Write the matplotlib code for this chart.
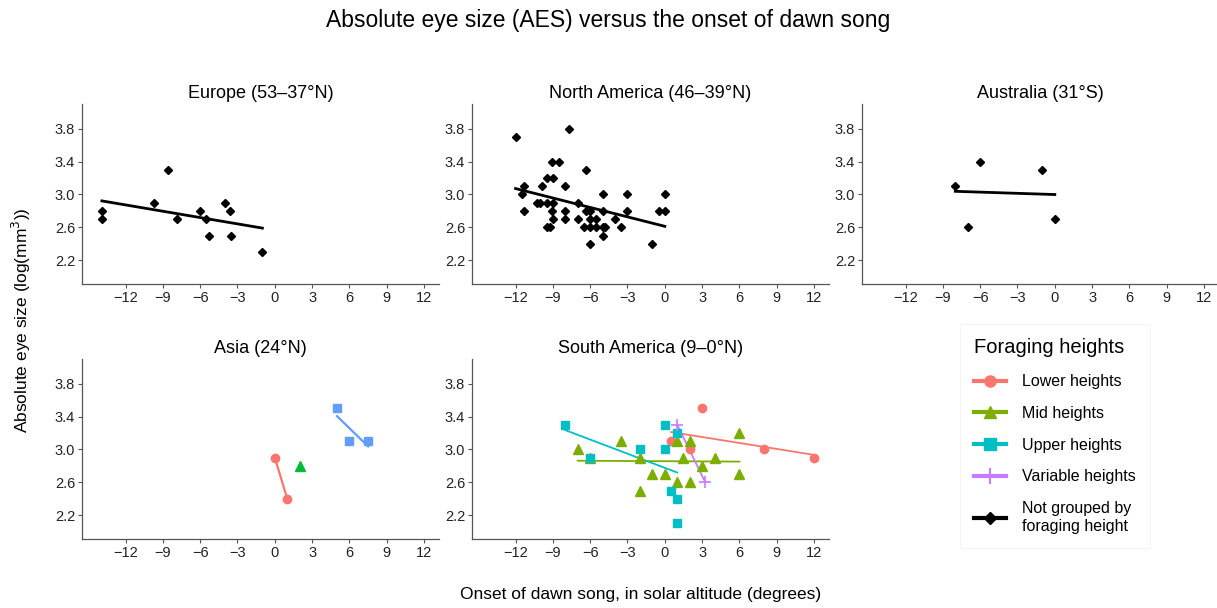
import numpy as np
import matplotlib
matplotlib.use("Agg")
import matplotlib.pyplot as plt
from matplotlib.lines import Line2D

plt.rcParams['font.family'] = ['Liberation Sans', 'DejaVu Sans']

# Datos
eu_x = [-13.9, -13.9, -9.7, -8.6, -7.9, -6.0, -5.5, -5.3, -4.0, -3.6, -3.5, -1.0]
eu_y = [2.8, 2.7, 2.9, 3.3, 2.7, 2.8, 2.7, 2.5, 2.9, 2.8, 2.5, 2.3]

na_x = [-12.0, -7.7, -9.1, -8.5, -6.3, -9.5, -9.0, -11.3, -9.9, -8.0,
        -11.5, -5.0, -3.0, 0.0, -10.3, -10.0, -9.5, -9.0, -7.0,
        -11.3, -9.1, -8.0, -6.3, -6.0, -5.0, -3.0, -0.5, 0.0,
        -9.0, -8.0, -7.0, -6.0, -5.5, -4.0,
        -9.5, -9.2, -6.5, -6.0, -5.5, -5.0, -4.8, -3.5,
        -5.0, -6.0, -1.0]
na_y = [3.7, 3.8, 3.4, 3.4, 3.3, 3.2, 3.2, 3.1, 3.1, 3.1,
        3.0, 3.0, 3.0, 3.0, 2.9, 2.9, 2.9, 2.9, 2.9,
        2.8, 2.8, 2.8, 2.8, 2.8, 2.8, 2.8, 2.8, 2.8,
        2.7, 2.7, 2.7, 2.7, 2.7, 2.7,
        2.6, 2.6, 2.6, 2.6, 2.6, 2.6, 2.6, 2.6,
        2.5, 2.4, 2.4]

au_x = [-8.0, -7.0, -6.0, -1.0, 0.0]
au_y = [3.1, 2.6, 3.4, 3.3, 2.7]

asia_low_x = [0.0, 1.0]
asia_low_y = [2.9, 2.4]
asia_mid_x = [2.0]
asia_mid_y = [2.8]
asia_up_x = [5.0, 6.0, 7.5]
asia_up_y = [3.5, 3.1, 3.1]

sa_low_x = [0.5, 2.0, 3.0, 8.0, 12.0]
sa_low_y = [3.1, 3.0, 3.5, 3.0, 2.9]
sa_mid_x = [-7.0, -6.0, -3.5, -2.0, -2.0, -1.0, 0.0, 1.0, 2.0, 1.0, 2.0, 1.5, 3.0, 4.0, 6.0, 6.0]
sa_mid_y = [3.0, 2.9, 3.1, 2.9, 2.5, 2.7, 2.7, 3.1, 3.1, 2.6, 2.6, 2.9, 2.8, 2.9, 3.2, 2.7]
sa_up_x = [-8.0, -6.0, -2.0, 0.0, 0.0, 1.0, 0.5, 1.0, 1.0]
sa_up_y = [3.3, 2.9, 3.0, 3.3, 3.0, 3.2, 2.5, 2.4, 2.1]
sa_var_x = [1.0, 3.25]
sa_var_y = [3.3, 2.6]

x_ticks = [-12, -9, -6, -3, 0, 3, 6, 9, 12]
y_ticks = [2.2, 2.6, 3.0, 3.4, 3.8]

legend_labels = ["Lower heights", "Mid heights", "Upper heights",
                 "Variable heights", "Not grouped by\nforaging height"]

# Colores tipo ggplot
c_low = "#F8766D"
c_mid = "#7CAE00"
c_up = "#00BFC4"
c_var = "#C77CFF"
c_mid3 = "#00BA38"
c_up3 = "#619CFF"


def recta(ax, x, y, color, lw):
    x = np.array(x)
    m, b = np.polyfit(x, y, 1)
    xs = np.array([x.min(), x.max()])
    ax.plot(xs, m * xs + b, color=color, lw=lw, zorder=2)


def formato(ax, titulo):
    ax.set_xlim(-15.5, 13.2)
    ax.set_ylim(1.91, 4.1)
    ax.set_xticks(x_ticks)
    ax.set_xticklabels([str(t).replace("-", "\u2212") for t in x_ticks])
    ax.set_yticks(y_ticks)
    ax.set_yticklabels([f"{t:.1f}" for t in y_ticks])
    for s in ["top", "right"]:
        ax.spines[s].set_visible(False)
    for s in ["left", "bottom"]:
        ax.spines[s].set_color("#555555")
        ax.spines[s].set_linewidth(0.9)
    ax.tick_params(length=3, width=0.8, color="#555555", labelsize=10.5,
                   labelcolor="#222222", pad=2)
    ax.set_title(titulo, fontsize=13, pad=4)


fig = plt.figure(figsize=(12.17, 6.08), dpi=100)

W, H = 357 / 1217, 180 / 608
lefts = [82 / 1217, 472 / 1217, 862 / 1217]
b_top = (608 - 284) / 608
b_bot = (608 - 539) / 608

ax_eu = fig.add_axes([lefts[0], b_top, W, H])
ax_na = fig.add_axes([lefts[1], b_top, W, H])
ax_au = fig.add_axes([lefts[2], b_top, W, H])
ax_as = fig.add_axes([lefts[0], b_bot, W, H])
ax_sa = fig.add_axes([lefts[1], b_bot, W, H])

dia = dict(marker="D", ms=4.2, color="black", ls="none", zorder=3)

# Europa
ax_eu.plot(eu_x, eu_y, **dia)
recta(ax_eu, eu_x, eu_y, "black", 2)
formato(ax_eu, "Europe (53\u201337\u00b0N)")

# Norteamerica
ax_na.plot(na_x, na_y, **dia)
recta(ax_na, na_x, na_y, "black", 2)
formato(ax_na, "North America (46\u201339\u00b0N)")

# Australia
ax_au.plot(au_x, au_y, **dia)
recta(ax_au, au_x, au_y, "black", 2)
formato(ax_au, "Australia (31\u00b0S)")

# Asia
ax_as.plot(asia_low_x, asia_low_y, "o", color=c_low, ms=6, zorder=3)
recta(ax_as, asia_low_x, asia_low_y, c_low, 1.6)
ax_as.plot(asia_mid_x, asia_mid_y, "^", color=c_mid3, ms=7, zorder=3)
ax_as.plot(asia_up_x, asia_up_y, "s", color=c_up3, ms=6, zorder=3)
recta(ax_as, asia_up_x, asia_up_y, c_up3, 1.6)
formato(ax_as, "Asia (24\u00b0N)")

# Sudamerica
ax_sa.plot(sa_low_x, sa_low_y, "o", color=c_low, ms=6, zorder=3)
recta(ax_sa, sa_low_x, sa_low_y, c_low, 1.3)
ax_sa.plot(sa_mid_x, sa_mid_y, "^", color=c_mid, ms=7, zorder=3)
recta(ax_sa, sa_mid_x, sa_mid_y, c_mid, 1.3)
ax_sa.plot(sa_up_x, sa_up_y, "s", color=c_up, ms=6, zorder=3)
recta(ax_sa, sa_up_x, sa_up_y, c_up, 1.3)
ax_sa.plot(sa_var_x, sa_var_y, "+", color=c_var, ms=9, mew=1.2, zorder=3)
recta(ax_sa, sa_var_x, sa_var_y, c_var, 1.3)
formato(ax_sa, "South America (9\u20130\u00b0N)")

# Leyenda
handles = [
    Line2D([], [], color=c_low, marker="o", ms=8, lw=3),
    Line2D([], [], color=c_mid, marker="^", ms=9, lw=3),
    Line2D([], [], color=c_up, marker="s", ms=8, lw=3),
    Line2D([], [], color=c_var, marker="+", ms=12, mew=1.5, lw=3),
    Line2D([], [], color="black", marker="D", ms=6, lw=3),
]
leg = fig.legend(handles, legend_labels, title="Foraging heights",
                 loc="upper left", bbox_to_anchor=(952 / 1217, 1 - 316 / 608),
                 fontsize=11.5, title_fontsize=14.5, frameon=True,
                 handlelength=2.0, labelspacing=1.05, alignment="left",
                 borderpad=0.9, handletextpad=1.0)
leg.get_frame().set_edgecolor("#f2f2f2")
leg.get_frame().set_linewidth(0.8)
leg.get_frame().set_boxstyle("square", pad=0)

fig.suptitle("Absolute eye size (AES) versus the onset of dawn song",
             fontsize=16.5, y=0.985, va="top")
fig.text(0.018, 0.474, "Absolute eye size (log(mm$^3$))", rotation=90,
         fontsize=12.5, ha="center", va="center")
fig.text(0.526, 0.022, "Onset of dawn song, in solar altitude (degrees)",
         fontsize=12.5, ha="center", va="center")

plt.savefig("out.png", dpi=100)
